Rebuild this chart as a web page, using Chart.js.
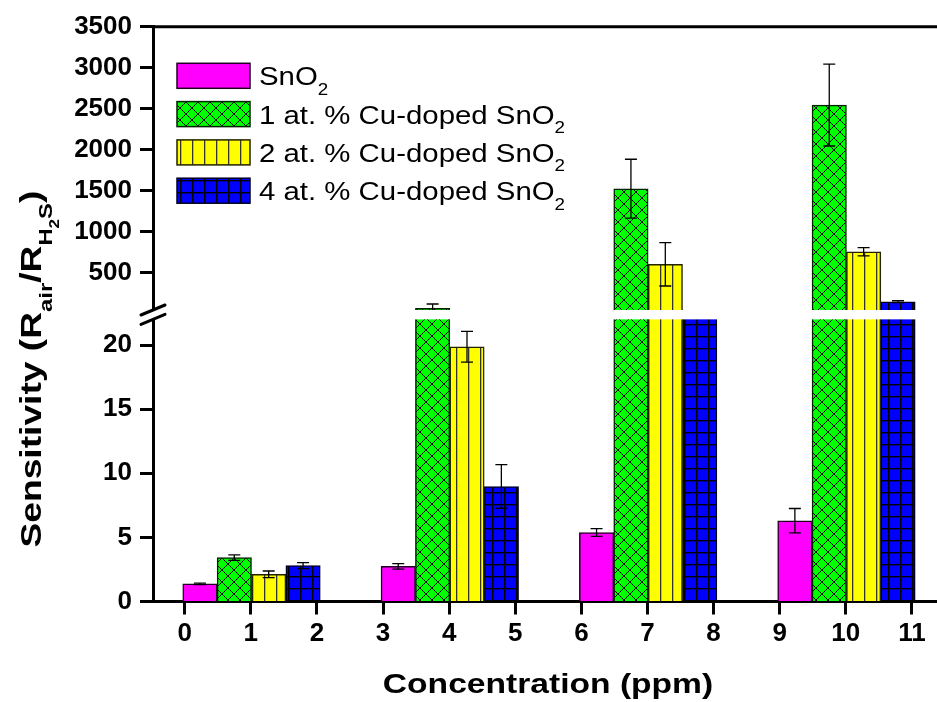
<!DOCTYPE html>
<html>
<head>
<meta charset="utf-8">
<title>Sensitivity vs concentration</title>
<script src="https://cdn.jsdelivr.net/npm/chart.js@4.4.1/dist/chart.umd.min.js"></script>
<style>
  html, body { margin: 0; padding: 0; background: #fff; }
  #wrap { width: 937px; height: 702px; }
</style>
</head>
<body>
<div id="wrap"><canvas id="sensChart" width="937" height="702"></canvas></div>
<script>
// bar centres on the concentration axis, one list per series
const xSnO2 = [0.23, 3.23, 6.23, 9.23];
const xCu1 = [0.75, 3.75, 6.75, 9.75];
const xCu2 = [1.27, 4.27, 7.27, 10.27];
const xCu4 = [1.79, 4.79, 7.79, 10.79];

// sensitivity (R_air / R_H2S) and error bars
const sensSnO2 = [1.37, 2.74, 5.38, 6.3];
const errSnO2 = [0.06, 0.22, 0.3, 0.95];
const sensCu1 = [3.42, 61, 1521, 2543];
const errCu1 = [0.22, 52, 360, 500];
const sensCu2 = [2.12, 19.86, 598, 751];
const errCu2 = [0.26, 1.2, 265, 50];
const sensCu4 = [2.8, 8.97, 30, 141];
const errCu4 = [0.23, 1.7, 0, 12];

const seriesNames = ['SnO_2', '1 at. % Cu-doped SnO_2', '2 at. % Cu-doped SnO_2', '4 at. % Cu-doped SnO_2'];

// tick labels
const xTicks = [0, 1, 2, 3, 4, 5, 6, 7, 8, 9, 10, 11];
const lowTicks = [0, 5, 10, 15, 20];
const highTicks = [500, 1000, 1500, 2000, 2500, 3000, 3500];

// axis break: lower panel ends at breakLow, upper panel starts at breakHigh
const breakLow = 22;
const breakHigh = 40;
const highMax = 3500;

const FONT = '"Liberation Sans", Arial, sans-serif';
Chart.defaults.font.family = FONT;

// ---- hatch patterns (Origin style) ----
function makePattern(w, h, bg, draw) {
    const c = document.createElement('canvas');
    c.width = w; c.height = h;
    const g = c.getContext('2d');
    g.fillStyle = bg;
    g.fillRect(0, 0, w, h);
    draw(g, w, h);
    return document.getElementById('sensChart').getContext('2d').createPattern(c, 'repeat');
}

const fillSnO2 = '#ff00ff';
const fillCu1 = makePattern(12, 12, '#00ff00', (g, w, h) => {
    g.strokeStyle = '#000';
    g.lineWidth = 1;
    g.beginPath();
    g.moveTo(-1, -1); g.lineTo(w + 1, h + 1);
    g.moveTo(w + 1, -1); g.lineTo(-1, h + 1);
    g.stroke();
});
const fillCu2 = makePattern(12, 4, '#ffff00', (g, w, h) => {
    g.fillStyle = '#333';
    g.fillRect(0, 0, 1.3, h);
});
const fillCu4 = makePattern(12, 12, '#0000ff', (g, w, h) => {
    g.fillStyle = '#000';
    g.fillRect(0, 0, 1.4, h);
    g.fillRect(0, 0, w, 1.4);
});

const fills = [fillSnO2, fillCu1, fillCu2, fillCu4];
const borders = ['#220022', '#002200', '#222200', '#000022'];

// ---- rich text with subscripts ----
function parseName(name) {
    const bits = name.split('_');
    return bits.length > 1 ? [[bits[0], 0], [bits[1], 1]] : [[bits[0], 0]];
}

const yTitleParts = [['Sensitivity (R', 0], ['air', 1], ['/R', 0], ['H', 1], ['2', 2], ['S', 1], [')', 0]];
const subSize = [1, 0.64, 0.46];
const subDrop = [0, 0.36, 0.6];

function richWidth(ctx, parts, size, weight) {
    let w = 0;
    parts.forEach(([t, lvl]) => {
        ctx.font = `${weight} ${size * subSize[lvl]}px ${FONT}`;
        w += ctx.measureText(t).width;
    });
    return w;
}

function drawRich(ctx, parts, size, weight, stretch, align) {
    // draws at current origin, baseline y = 0
    const w = richWidth(ctx, parts, size, weight);
    ctx.save();
    ctx.scale(stretch, 1);
    let cx = align === 'center' ? -w / 2 : 0;
    ctx.fillStyle = '#000';
    ctx.textBaseline = 'alphabetic';
    ctx.textAlign = 'left';
    parts.forEach(([t, lvl]) => {
        ctx.font = `${weight} ${size * subSize[lvl]}px ${FONT}`;
        ctx.fillText(t, cx, size * subDrop[lvl]);
        cx += ctx.measureText(t).width;
    });
    ctx.restore();
}

// ---- plugin: panel clipping, error bars, axis break, legend, titles ----
const brokenAxisPlugin = {
    id: 'brokenAxis',
    beforeDatasetDraw(chart, args) {
        const { xScale, yScale } = args.meta;
        const ctx = chart.ctx;
        ctx.save();
        ctx.beginPath();
        ctx.rect(xScale.left, yScale.top, xScale.right - xScale.left, yScale.bottom - yScale.top);
        ctx.clip();
    },
    afterDatasetDraw(chart, args) {
        const ctx = chart.ctx;
        const meta = args.meta;
        const ds = chart.data.datasets[args.index];
        const yScale = meta.yScale;
        const upper = yScale.id === 'yHigh';
        ctx.strokeStyle = '#000';
        ctx.lineWidth = 1.3;
        meta.data.forEach((bar, i) => {
            const v = ds.data[i].y;
            const e = ds.errors[i];
            // an error bar belongs to the panel that shows the bar top
            if (!e || (v > breakLow) !== upper) return;
            const yTop = yScale.getPixelForValue(v + e);
            const yBot = yScale.getPixelForValue(v - e);
            ctx.beginPath();
            ctx.moveTo(bar.x, yTop); ctx.lineTo(bar.x, yBot);
            ctx.moveTo(bar.x - 6, yTop); ctx.lineTo(bar.x + 6, yTop);
            ctx.moveTo(bar.x - 6, yBot); ctx.lineTo(bar.x + 6, yBot);
            ctx.stroke();
        });
        ctx.restore();
    },
    afterDatasetsDraw(chart) {
        const ctx = chart.ctx;
        const area = chart.chartArea;
        const yHigh = chart.scales.yHigh;
        const yLow = chart.scales.yLow;
        const gapTop = yHigh.bottom;
        const gapBottom = yLow.getPixelForValue(breakLow);

        // white gap through bars and axis
        ctx.save();
        ctx.fillStyle = '#fff';
        ctx.fillRect(area.left - 4, gapTop, area.right - area.left + 4, gapBottom - gapTop);

        // break marks
        ctx.strokeStyle = '#000';
        ctx.lineWidth = 3;
        ctx.lineCap = 'round';
        [gapTop, gapBottom].forEach(y => {
            ctx.beginPath();
            ctx.moveTo(area.left - 12, y + 5);
            ctx.lineTo(area.left + 12, y - 5);
            ctx.stroke();
        });

        // top frame line
        ctx.lineCap = 'butt';
        ctx.beginPath();
        ctx.moveTo(area.left - 1.5, area.top);
        ctx.lineTo(area.right, area.top);
        ctx.stroke();
        ctx.restore();
    },
    afterDraw(chart) {
        const ctx = chart.ctx;
        const area = chart.chartArea;

        // legend
        seriesNames.forEach((name, i) => {
            const bx = area.left + 24;
            const by = area.top + 36.6 + i * 38.3;
            ctx.save();
            ctx.fillStyle = fills[i];
            ctx.fillRect(bx, by, 73, 25);
            ctx.strokeStyle = borders[i];
            ctx.lineWidth = 1.5;
            ctx.strokeRect(bx, by, 73, 25);
            ctx.translate(bx + 82, by + 22);
            drawRich(ctx, parseName(name), 26, 'normal', 1.13, 'left');
            ctx.restore();
        });

        // x title
        ctx.save();
        ctx.translate((area.left + area.right) / 2 + 3, 693);
        drawRich(ctx, [['Concentration (ppm)', 0]], 28, 'bold', 1.2, 'center');
        ctx.restore();

        // y title
        ctx.save();
        ctx.translate(41, (area.top + area.bottom) / 2 + 55);
        ctx.rotate(-Math.PI / 2);
        drawRich(ctx, yTitleParts, 30, 'bold', 1.24, 'center');
        ctx.restore();
    }
};

function barSet(label, xs, ys, errs, idx, axis) {
    return {
        label: label,
        data: xs.map((x, i) => ({ x: x, y: ys[i] })),
        errors: errs,
        yAxisID: axis,
        backgroundColor: fills[idx],
        borderColor: borders[idx],
        borderWidth: 1.5,
        barThickness: 34.4,
        grouped: false
    };
}

const series = [
    [xSnO2, sensSnO2, errSnO2],
    [xCu1, sensCu1, errCu1],
    [xCu2, sensCu2, errCu2],
    [xCu4, sensCu4, errCu4]
];

const datasets = [];
['yLow', 'yHigh'].forEach(axis => {
    series.forEach((s, i) => datasets.push(barSet(seriesNames[i], s[0], s[1], s[2], i, axis)));
});

const tickFont = { family: FONT, size: 26, weight: 'bold' };
const axisGrid = { drawOnChartArea: false, drawTicks: true, tickLength: 13, tickWidth: 3, tickColor: '#000' };
const axisBorder = { display: true, width: 3, color: '#000' };
const tickOpts = { color: '#000', font: tickFont, padding: 8, autoSkip: false, callback: v => String(v) };

new Chart(document.getElementById('sensChart'), {
    type: 'bar',
    data: { datasets: datasets },
    options: {
        responsive: false,
        animation: false,
        devicePixelRatio: 1,
        layout: { padding: { top: 26.7, right: 0, left: 0, bottom: 0 } },
        plugins: { legend: { display: false }, tooltip: { enabled: false } },
        scales: {
            x: {
                type: 'linear',
                min: -0.48,
                max: 11.38,
                offset: false,
                afterBuildTicks: s => { s.ticks = xTicks.map(v => ({ value: v })); },
                afterFit: s => { s.height = 100.5; },
                grid: Object.assign({ offset: false }, axisGrid),
                border: axisBorder,
                ticks: Object.assign({}, tickOpts, { padding: 4, maxRotation: 0 })
            },
            yLow: {
                type: 'linear',
                position: 'left',
                stack: 'sens',
                stackWeight: 291.5,
                weight: 0,
                min: 0,
                max: 22.73,
                afterBuildTicks: s => { s.ticks = lowTicks.map(v => ({ value: v })); },
                afterFit: s => { s.width = 153; },
                grid: axisGrid,
                border: axisBorder,
                ticks: tickOpts
            },
            yHigh: {
                type: 'linear',
                position: 'left',
                stack: 'sens',
                stackWeight: 283.3,
                weight: 1,
                min: breakHigh,
                max: highMax,
                afterBuildTicks: s => { s.ticks = highTicks.map(v => ({ value: v })); },
                afterFit: s => { s.width = 153; },
                grid: axisGrid,
                border: axisBorder,
                ticks: tickOpts
            }
        }
    },
    plugins: [brokenAxisPlugin]
});
</script>
</body>
</html>
